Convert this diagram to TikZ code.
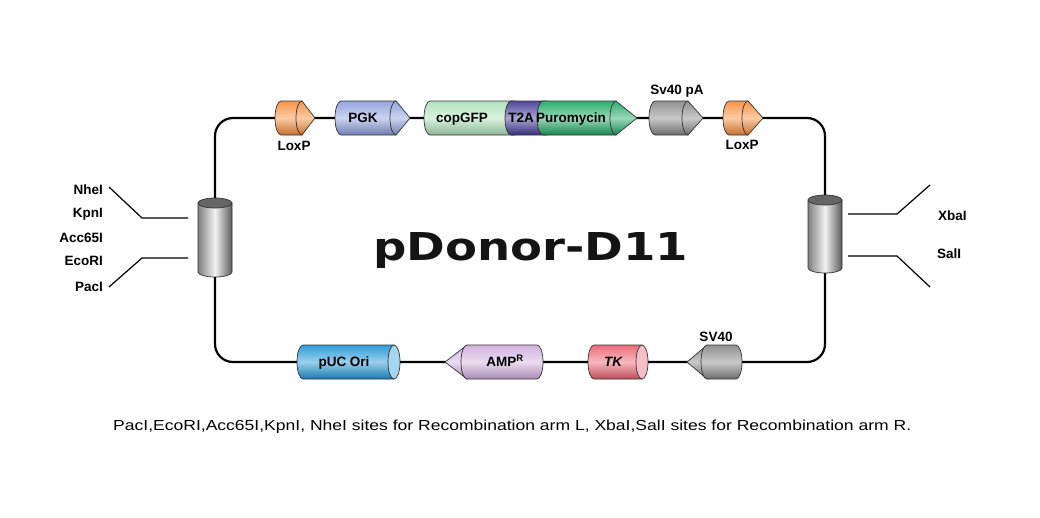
\documentclass[tikz,border=0pt]{standalone}
\usepackage{fontspec}
\usepackage{graphicx}
\setmainfont{Liberation Sans}
\newfontfamily\titlefont{DejaVu Sans}
\usetikzlibrary{backgrounds}

\definecolor{loxOrange}{RGB}{246,140,56}
\definecolor{pgkBlue}{RGB}{140,158,220}
\definecolor{gfpGreen}{RGB}{170,226,184}
\definecolor{t2aNavy}{RGB}{66,56,150}
\definecolor{puroGreen}{RGB}{28,168,98}
\definecolor{geneGray}{RGB}{135,135,135}
\definecolor{pucBlue}{RGB}{30,150,216}
\definecolor{ampLilac}{RGB}{208,174,222}
\definecolor{tkRed}{RGB}{236,96,110}

\tikzset{
  gene/.style={draw=black!80, line width=0.7pt, top color=#1!92!white, bottom color=#1!80!black, middle color=#1!45!white},
  lbl/.style={font=\bfseries\fontsize{13.5}{15}\selectfont, inner sep=0pt, text height=9.6pt, text depth=0pt},
  leader/.style={line width=1.2pt},
  backbone/.style={line width=2.2pt, rounded corners=18pt}
}

% body with rounded left end: x0, x1, y, colour
\newcommand{\genebody}[4]{%
  \path[gene=#4] (#1+6,#3-17) -- (#2,#3-17) -- (#2,#3+17) -- (#1+6,#3+17)
    arc[start angle=90, end angle=270, x radius=6, y radius=17] -- cycle;}
% arrow head pointing right: base, tip, y, colour
\newcommand{\conetip}[4]{%
  \path[gene=#4] (#1,#3-17) -- (#2,#3) -- (#1,#3+17)
    arc[start angle=90, end angle=270, x radius=6, y radius=17] -- cycle;}
% gene pointing left: tip, base, x1, y, colour
\newcommand{\geneleft}[5]{%
  \path[gene=#5] (#2,#4-17) -- (#1,#4) -- (#2,#4+17) -- cycle;
  \path[gene=#5] (#2,#4-17) arc[start angle=270, end angle=90, x radius=6, y radius=17]
    -- (#3-6,#4+17) arc[start angle=90, end angle=-90, x radius=6, y radius=17] -- cycle;}
% lying cylinder: x0, x1, y, colour
\newcommand{\cylH}[4]{%
  \path[gene=#4] (#1+6,#3-17) -- (#2-6,#3-17) -- (#2-6,#3+17) -- (#1+6,#3+17)
    arc[start angle=90, end angle=270, x radius=6, y radius=17] -- cycle;
  \path[draw=black!80, line width=0.7pt, fill=#4!40!white] (#2-6,#3) ellipse[x radius=6, y radius=17];}
% standing cylinder: x, y top, y bottom
\newcommand{\cylV}[3]{%
  \path[draw=black!80, line width=0.7pt, left color=black!50, right color=black!65, middle color=black!5]
    (#1-17,#2) -- (#1-17,#3) arc[start angle=180, end angle=0, x radius=17, y radius=5] -- (#1+17,#2) -- cycle;
  \path[draw=black!80, line width=0.7pt, fill=black!60] (#1,#2) ellipse[x radius=17, y radius=5];}

\begin{document}
\begin{tikzpicture}[x=1pt, y=-1pt]
  \useasboundingbox (0,0) rectangle (1040,517);

  % top row
  \genebody{275}{302}{118}{loxOrange} \conetip{302}{315}{118}{loxOrange}
  \genebody{335}{396}{118}{pgkBlue} \conetip{396}{410}{118}{pgkBlue}
  \genebody{424}{515}{118}{gfpGreen}
  \genebody{505}{547}{118}{t2aNavy}
  \genebody{537}{616}{118}{puroGreen} \conetip{616}{637}{118}{puroGreen}
  \genebody{649}{688}{118}{geneGray} \conetip{688}{703}{118}{geneGray}
  \genebody{723}{748}{118}{loxOrange} \conetip{748}{763}{118}{loxOrange}
  \coordinate (loxL) at (295,118);
  \coordinate (loxR) at (743,118);

  % bottom row
  \cylH{297}{400}{362}{pucBlue}
  \geneleft{445}{467}{543}{362}{ampLilac}
  \cylH{588}{648}{362}{tkRed}
  \geneleft{687}{707}{742}{362}{geneGray}
  \coordinate (puc) at (348,362);
  \coordinate (sv40) at (715,362);

  % recombination arms
  \cylV{215}{203}{272}
  \cylV{825}{200}{268}
  \coordinate (cylL) at (215,237);
  \coordinate (cylR) at (825,234);

  \node[lbl] (loxLlbl) at (294,146) {LoxP};
  \node[lbl] (pgkLbl) at (363,118) {PGK};
  \node[lbl] (gfpLbl) at (462,118) {copGFP};
  \node[lbl] (t2aLbl) at (521,118) {T2A};
  \node[lbl] (puroLbl) at (571,118) {Puromycin};
  \node[lbl] (sv40paLbl) at (677,90) {Sv40 pA};
  \node[lbl] (loxRlbl) at (742,145) {LoxP};
  \node[lbl] (pucLbl) at (344,362) {pUC Ori};
  \node[lbl] (ampLbl) at (505,362) {AMP\textsuperscript{R}};
  \node[lbl] (tkLbl) at (613,362) {\itshape TK};
  \node[lbl] (sv40Lbl) at (716,337) {SV40};

  % sites
  \node[lbl, anchor=east] (nhe) at (103,190) {NheI};
  \node[lbl, anchor=east] (kpn) at (103,212.5) {KpnI};
  \node[lbl, anchor=east] (acc) at (103,238) {Acc65I};
  \node[lbl, anchor=east] (eco) at (103,261) {EcoRI};
  \node[lbl, anchor=east] (pac) at (103,286.5) {PacI};
  \node[lbl, anchor=west] (xba) at (938,215.5) {XbaI};
  \node[lbl, anchor=west] (sal) at (937,253.5) {SalI};

  \coordinate (armL1) at (188,218);
  \coordinate (armL2) at (188,258);
  \coordinate (armR1) at (848,214);
  \coordinate (armR2) at (848,256);
  \coordinate (nheTip) at (109,187);
  \coordinate (pacTip) at (109,287);
  \coordinate (xbaTip) at (930,185);
  \coordinate (salTip) at (930,287);
  \draw[leader] (armL1) -- ++(-46,0) -- (nheTip);
  \draw[leader] (armL2) -- ++(-46,0) -- (pacTip);
  \draw[leader] (armR1) -- ++(49,0) -- (xbaTip);
  \draw[leader] (armR2) -- ++(49,0) -- (salTip);

  \node[anchor=base west, inner sep=0pt, text=black!92] (title) at (373,260)
    {\resizebox{315pt}{28pt}{\titlefont\bfseries pDonor-D11}};
  \node[anchor=base west, inner sep=0pt] (note) at (113,430.5)
    {\resizebox{798pt}{10.5pt}{\fontsize{14}{16}\selectfont PacI,EcoRI,Acc65I,KpnI, NheI sites for Recombination arm L, XbaI,SalI sites for Recombination arm R.}};

  \begin{pgfonlayer}{background}
    \draw[backbone] (cylL) |- (loxL) -- (loxR) -| (cylR) |- (sv40) -- (puc) -| (cylL);
  \end{pgfonlayer}
\end{tikzpicture}
\end{document}
